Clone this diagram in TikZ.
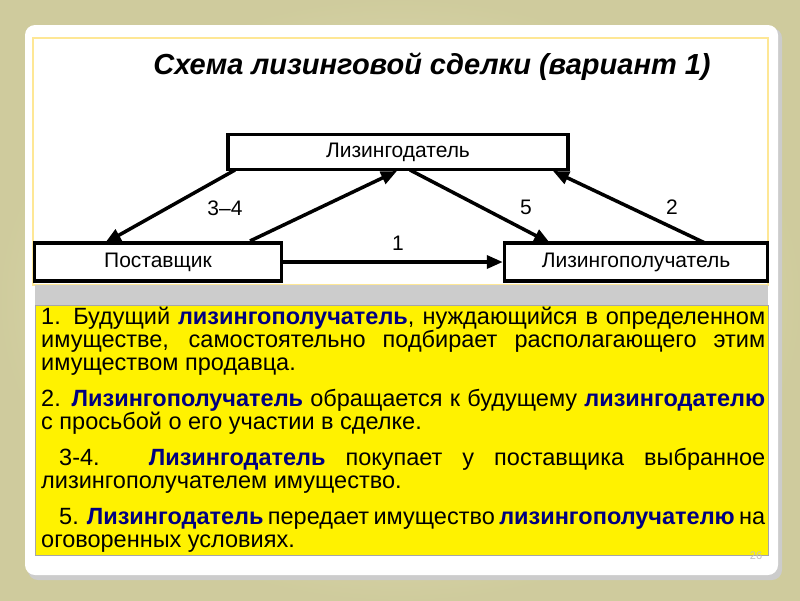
\documentclass[tikz,border=0pt]{standalone}
\usepackage{fontspec}
\setmainfont{Liberation Sans}
\usetikzlibrary{arrows.meta}
\definecolor{bgc}{HTML}{E6E2AE}
\definecolor{navy}{HTML}{000080}
\tikzset{
  ent/.style={draw=black,line width=3.5pt,fill=white,inner sep=0pt},
  arr/.style={line width=3.5pt,-{Triangle[length=16pt,width=13pt]}},
  lab/.style={font=\fontsize{21}{21}\selectfont},
}
\newcommand{\bw}[1]{\textbf{\color{navy}#1}}
\begin{document}
\begin{tikzpicture}[x=1pt,y=-1pt]
\useasboundingbox (0,0) rectangle (800,600);
\shade[inner color=bgc!60!white,outer color=bgc!90!black] (0,0) rectangle (800,600);
\fill[gray!40,rounded corners=10pt] (28,28) rectangle (782,580);
\fill[white,rounded corners=10pt] (25,25) rectangle (778,575);
\draw[yellow!60!orange!40,line width=1.5pt,fill=white] (33,38) rectangle (768,285);
\fill[gray!40] (35,285) rectangle (768,305);
\node[font=\fontsize{29}{29}\selectfont\bfseries\itshape] (title) at (432,67) {Схема лизинговой сделки (вариант 1)};
\node[ent,minimum width=340pt,minimum height=35pt,lab] (L) at (398,152) {Лизингодатель};
\node[ent,minimum width=247pt,minimum height=38pt,lab] (P) at (158,262) {Поставщик};
\node[ent,minimum width=263pt,minimum height=38pt,lab] (R) at (636,262) {Лизингополучатель};
\coordinate (a1) at (235,170);
\coordinate (a2) at (105,243);
\coordinate (b1) at (250,241);
\coordinate (b2) at (397,171);
\coordinate (c1) at (410,170);
\coordinate (c2) at (550,243);
\coordinate (d1) at (705,243);
\coordinate (d2) at (553,171);
\draw[arr] (a1) -- (a2);
\draw[arr] (b1) -- (b2);
\draw[arr] (c1) -- (c2);
\draw[arr] (d1) -- (d2);
\draw[arr] (P.east) -- (R.west);
\node[lab] (l34) at (225,208) {3–4};
\node[lab] (l5) at (526,207) {5};
\node[lab] (l2) at (672,207) {2};
\node[lab] (l1) at (398,243) {1};
\node[draw=gray!70,line width=0.5pt,fill=yellow,minimum width=733pt,minimum height=250pt,anchor=north west,inner sep=0pt] (tb) at (35,305) {};
\node[anchor=north west,inner sep=0pt,text width=724pt,align=justify,font=\fontsize{23.5}{23}\selectfont] (tx) at (41,307) {%
1. Будущий \bw{лизингополучатель}, нуждающийся в определенном имуществе, самостоятельно подбирает располагающего этим имуществом продавца.\\[13pt]
2. \bw{Лизингополучатель} обращается к будущему \bw{лизингодателю} с просьбой о его участии в сделке.\\[13pt]
\hspace*{18pt}3-4. \bw{Лизингодатель} покупает у поставщика выбранное лизингополучателем имущество.\\[13pt]
\hspace*{18pt}5. \bw{Лизингодатель} передает имущество \bw{лизингополучателю} на оговоренных условиях.};
\node[text=gray!50,font=\fontsize{11}{11}\selectfont] (pg) at (756,556) {26};
\end{tikzpicture}
\end{document}
